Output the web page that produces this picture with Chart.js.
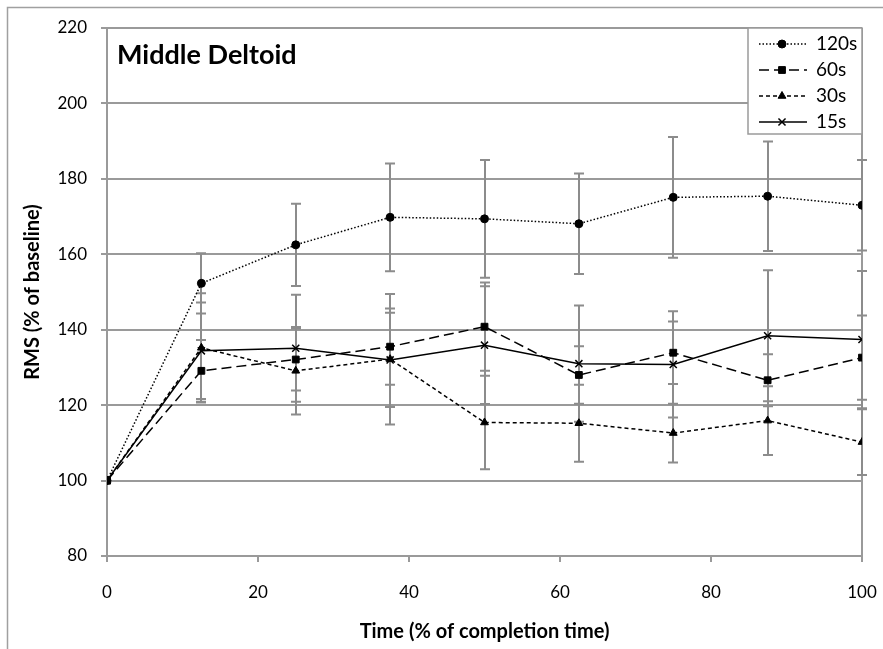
<!DOCTYPE html>
<html>
<head>
<meta charset="utf-8">
<title>Middle Deltoid</title>
<script src="https://cdn.jsdelivr.net/npm/chart.js@4.4.1/dist/chart.umd.min.js"></script>
<style>
  html, body { margin: 0; padding: 0; background: #fff; overflow: hidden; }
  canvas { display: block; }
</style>
</head>
<body>
<canvas id="rmsChart" width="883" height="649"></canvas>
<script>
// time points (% of completion time)
const timePoints = [0, 12.5, 25, 37.5, 50, 62.5, 75, 87.5, 100];

// RMS (% of baseline) per rest interval, with +/- error
const rms120 = [100, 152.3, 162.5, 169.8, 169.4, 168.1, 175.1, 175.4, 173.0];
const err120 = [0, 8.0, 10.9, 14.3, 15.6, 13.3, 16.0, 14.5, 12.0];
const rms60 = [100, 129.1, 132.1, 135.5, 140.8, 128.0, 133.9, 126.6, 132.6];
const err60 = [0, 8.2, 8.2, 10.1, 11.7, 7.6, 8.3, 6.9, 11.2];
const rms30 = [100, 135.2, 129.1, 132.2, 115.4, 115.2, 112.6, 115.9, 110.2];
const err30 = [0, 14.5, 11.6, 17.3, 12.4, 10.2, 7.8, 9.1, 8.7];
const rms15 = [100, 134.4, 135.1, 132.0, 135.9, 131.0, 130.8, 138.4, 137.4];
const err15 = [0, 12.8, 14.2, 12.5, 15.6, 15.4, 14.1, 17.4, 18.2];

const seriesLabels = ['120s', '60s', '30s', '15s'];
const xTicks = [0, 20, 40, 60, 80, 100];
const yTicks = [80, 100, 120, 140, 160, 180, 200, 220];

const chartTitle = 'Middle Deltoid';
const xTitle = 'Time (% of completion time)';
const yTitle = 'RMS (% of baseline)';

const FONT = 'Lato, "Liberation Sans", sans-serif';
const GRID = '#9a9a9a';

function series(label, values, errors, pointStyle, radius, dash) {
  return {
    label,
    data: values.map((v, i) => ({ x: timePoints[i], y: v })),
    errors,
    borderColor: '#000',
    backgroundColor: '#000',
    borderWidth: 1.5,
    borderDash: dash,
    pointStyle,
    pointRadius: radius,
    pointBorderWidth: pointStyle === 'crossRot' ? 1.5 : 1,
    pointBackgroundColor: '#000',
    pointBorderColor: '#000',
    tension: 0,
    fill: false
  };
}

// vertical error bars with caps, drawn under the lines
const errorBars = {
  id: 'errorBars',
  beforeDatasetsDraw(chart) {
    const { ctx, scales: { x, y }, chartArea } = chart;
    ctx.save();
    ctx.strokeStyle = GRID;
    ctx.lineWidth = 2;
    // right edge of the plot area
    ctx.beginPath();
    ctx.moveTo(chartArea.right, chartArea.top);
    ctx.lineTo(chartArea.right, chartArea.bottom);
    ctx.stroke();
    ctx.strokeStyle = '#8c8c8c';
    chart.data.datasets.forEach(ds => {
      ds.data.forEach((pt, i) => {
        const e = ds.errors[i];
        if (!e) return;
        const px = Math.round(x.getPixelForValue(pt.x));
        const top = y.getPixelForValue(pt.y + e);
        const bot = y.getPixelForValue(pt.y - e);
        ctx.beginPath();
        ctx.moveTo(px, top); ctx.lineTo(px, bot);
        ctx.moveTo(px - 5, top); ctx.lineTo(px + 5, top);
        ctx.moveTo(px - 5, bot); ctx.lineTo(px + 5, bot);
        ctx.stroke();
      });
    });
    ctx.restore();
  }
};

const decorations = {
  id: 'decorations',
  beforeDraw(chart) {
    const { ctx } = chart;
    ctx.save();
    ctx.strokeStyle = '#a0a0a0';
    ctx.lineWidth = 1.5;
    ctx.strokeRect(7.5, 7.5, 2000, 2000);
    ctx.restore();
  },
  afterDraw(chart) {
    const { ctx, chartArea } = chart;
    ctx.save();
    ctx.fillStyle = '#000';

    // title inside plot
    ctx.font = `bold 27px ${FONT}`;
    ctx.textAlign = 'left';
    ctx.textBaseline = 'middle';
    ctx.fillText(chartTitle, chartArea.left + 10, chartArea.top + 27);

    // axis titles
    ctx.font = `bold 20px ${FONT}`;
    ctx.textAlign = 'center';
    ctx.fillText(xTitle, (chartArea.left + chartArea.right) / 2, 632);
    ctx.save();
    ctx.translate(33, (chartArea.top + chartArea.bottom) / 2);
    ctx.rotate(-Math.PI / 2);
    ctx.fillText(yTitle, 0, 0);
    ctx.restore();

    // legend box in the top right corner
    const w = 114, h = 106;
    const lx = chartArea.right - w, ly = chartArea.top;
    ctx.fillStyle = '#fff';
    ctx.fillRect(lx, ly, w, h);
    ctx.strokeStyle = GRID;
    ctx.lineWidth = 1.5;
    ctx.strokeRect(lx, ly, w, h);
    chart.data.datasets.forEach((ds, i) => {
      const cy = ly + 16 + i * 26;
      ctx.save();
      ctx.strokeStyle = '#000';
      ctx.lineWidth = ds.borderWidth;
      ctx.setLineDash(ds.borderDash || []);
      ctx.beginPath();
      ctx.moveTo(lx + 11, cy);
      ctx.lineTo(lx + 59, cy);
      ctx.stroke();
      ctx.restore();
      ctx.fillStyle = '#000';
      ctx.strokeStyle = '#000';
      ctx.lineWidth = ds.pointBorderWidth;
      Chart.helpers.drawPoint(ctx, {
        pointStyle: ds.pointStyle,
        radius: ds.pointRadius,
        borderWidth: ds.pointBorderWidth,
        rotation: 0
      }, lx + 34, cy);
      ctx.fillStyle = '#000';
      ctx.font = `19px ${FONT}`;
      ctx.textAlign = 'left';
      ctx.textBaseline = 'middle';
      ctx.fillText(ds.label, lx + 68, cy);
    });
    ctx.restore();
  }
};

const ctx = document.getElementById('rmsChart').getContext('2d');
new Chart(ctx, {
  type: 'line',
  data: {
    datasets: [
      series(seriesLabels[0], rms120, err120, 'circle', 4, [1.5, 2]),
      series(seriesLabels[1], rms60, err60, 'rect', 4.8, [10, 5]),
      series(seriesLabels[2], rms30, err30, 'triangle', 4.5, [4, 3]),
      series(seriesLabels[3], rms15, err15, 'crossRot', 5, [])
    ]
  },
  options: {
    responsive: false,
    animation: false,
    events: [],
    layout: { padding: { left: 0, top: 28, right: 21, bottom: 0 } },
    plugins: { legend: { display: false }, tooltip: { enabled: false } },
    scales: {
      x: {
        type: 'linear',
        min: xTicks[0],
        max: xTicks[xTicks.length - 1],
        afterBuildTicks: s => { s.ticks = xTicks.map(v => ({ value: v })); },
        afterFit: s => { s.height = 93; s.paddingLeft = 0; s.paddingRight = 0; },
        grid: { drawOnChartArea: false, drawTicks: true, tickLength: 6, color: GRID, lineWidth: 2 },
        border: { display: true, color: GRID, width: 2 },
        ticks: { color: '#000', padding: 20, maxRotation: 0, font: { family: FONT, size: 17 } }
      },
      y: {
        min: yTicks[0],
        max: yTicks[yTicks.length - 1],
        afterBuildTicks: s => { s.ticks = yTicks.map(v => ({ value: v })); },
        afterFit: s => { s.width = 107; s.paddingTop = 0; s.paddingBottom = 0; },
        grid: { drawOnChartArea: true, drawTicks: true, tickLength: 6, color: GRID, lineWidth: 2 },
        border: { display: true, color: GRID, width: 2 },
        ticks: { color: '#000', padding: 14, font: { family: FONT, size: 17 } }
      }
    }
  },
  plugins: [errorBars, decorations]
});
</script>
</body>
</html>
